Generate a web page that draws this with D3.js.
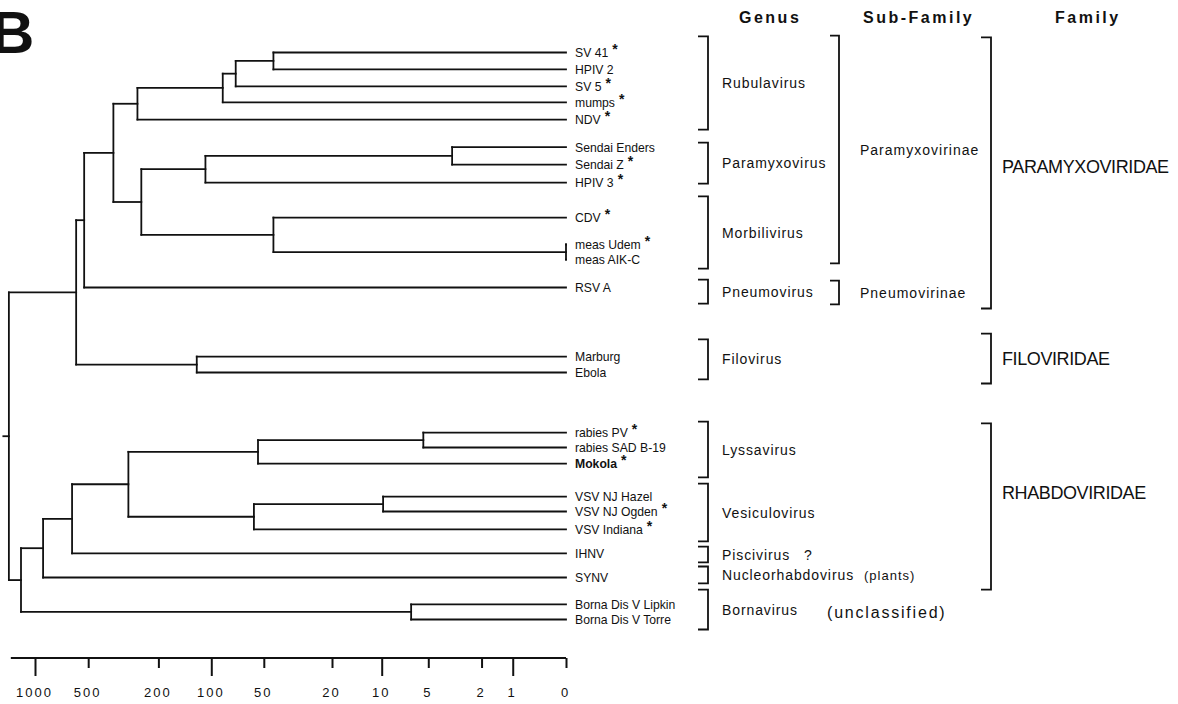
<!DOCTYPE html>
<html><head><meta charset="utf-8">
<script src="https://cdn.jsdelivr.net/npm/d3@7"></script>
<style>
body{margin:0;background:#fff;}
svg{display:block;}
text{font-family:"Liberation Sans",Arial,Helvetica,sans-serif;fill:#111;}
</style>
</head><body>
<svg id="c" width="1178" height="704"></svg>
<script>
// ---------- DATA ----------
const leaves = ["SV 41","HPIV 2","SV 5","mumps","NDV","Sendai Enders","Sendai Z","HPIV 3","CDV",
  "meas Udem","meas AIK-C","RSV A","Marburg","Ebola","rabies PV","rabies SAD B-19","Mokola",
  "VSV NJ Hazel","VSV NJ Ogden","VSV Indiana","IHNV","SYNV","Borna Dis V Lipkin","Borna Dis V Torre"];
const leafParents = ["P7","P7","P6","P5","P4","P10","P10","P9","P11","P12","P12","P2","F1","F1",
  "R5","R5","R4","R7","R7","R6","R2","R1","B1","B1"];
// vertical slot of each leaf (row units)
const leafRows = [0,1.0,2.0,2.94,3.96,5.59,6.62,7.68,9.75,11.34,12.23,13.88,17.96,18.9,
  22.45,23.33,24.28,26.23,27.11,28.17,29.59,31.01,32.6,33.49];
const starred = ["SV 41","SV 5","mumps","NDV","Sendai Z","HPIV 3","CDV","meas Udem",
  "rabies PV","Mokola","VSV NJ Ogden","VSV Indiana"];
const boldLeaves = ["Mokola"];

// internal nodes: id, parent, divergence
const cladeIds     = ["root","P1","P2","P3","P4","P5","P6","P7","P8","P9","P10","P11","P12","F1",
  "R0","R1","R2","R3","R4","R5","R6","R7","B1"];
const cladeParents = ["","root","P1","P2","P3","P4","P5","P6","P3","P8","P9","P8","P11","P1",
  "root","R0","R1","R2","R3","R4","R3","R6","R0"];
const cladeDist    = [1405,585,527,360,263,86,72.5,44,250,108,3.4,44,0,121,
  1200,900,617,296,54,5.4,57,9.8,6.5];
const rootStem = 1510;

// axis
const majorTicks = [1000,100,10,1];
const minorTicks = [500,200,50,20,5,2,0];
const axisStart = 1370;

// classification
const genusNames  = ["Rubulavirus","Paramyxovirus","Morbilivirus","Pneumovirus","Filovirus",
  "Lyssavirus","Vesiculovirus","Piscivirus","Nucleorhabdovirus","Bornavirus"];
const genusTop    = [-0.95,5.32,8.5,13.41,16.95,21.8,25.46,29.18,30.36,31.72];
const genusBottom = [4.55,7.74,12.76,14.83,19.31,25.1,28.88,30.12,31.36,34.08];
const genusNotes  = ["","","","","","","","?","(plants)","(unclassified)"];

const subNames  = ["Paramyxovirinae","Pneumovirinae"];
const subTop    = [-1.0,13.47];
const subBottom = [12.46,14.88];

const famNames    = ["PARAMYXOVIRIDAE","FILOVIRIDAE","RHABDOVIRIDAE"];
const famTop      = [-0.89,16.6,21.91];
const famBottom   = [15.12,19.55,31.72];
const famLabelRow = [6.76,18.05,26.0];

const headers = ["Genus","Sub-Family","Family"];

// ---------- DRAW ----------
const svg = d3.select("#c");
const x = d3.scaleSymlog().constant(1).domain([1000,0]).range([35,566]);
const y = d3.scaleLinear().domain([0,33.49]).range([52.5,619.5]);

const table = cladeIds.map((id,i)=>({id, parent: cladeParents[i]||null, dist: cladeDist[i]}))
  .concat(leaves.map((n,i)=>({id:n, parent:leafParents[i], dist:0, row:leafRows[i]})));
const root = d3.stratify().id(d=>d.id).parentId(d=>d.parent)(table);
root.eachAfter(n=>{
  n.px = x(n.data.dist);
  n.py = n.children ? (d3.min(n.children,c=>c.py)+d3.max(n.children,c=>c.py))/2 : y(n.data.row);
});

// "B" panel letter
svg.append("text").attr("x",-9).attr("y",53).attr("font-size",60).attr("font-weight","bold")
  .text("B");

const gT = svg.append("g").attr("stroke","#111").attr("stroke-width",1.8)
  .attr("stroke-linecap","square").attr("fill","none");
root.descendants().forEach(n=>{
  if(n.children){
    gT.append("line").attr("x1",n.px).attr("x2",n.px)
      .attr("y1",d3.min(n.children,c=>c.py)).attr("y2",d3.max(n.children,c=>c.py));
  }
  if(n.parent){
    gT.append("line").attr("x1",n.parent.px).attr("x2",n.px).attr("y1",n.py).attr("y2",n.py);
  }
});
gT.append("line").attr("x1",x(rootStem)).attr("x2",root.px).attr("y1",root.py).attr("y2",root.py);

// leaf labels
const gL = svg.append("g");
root.leaves().forEach(n=>{
  const t = gL.append("text").attr("x",x(0)+9).attr("y",n.py).attr("dy","0.36em")
    .attr("font-size",12.2).attr("font-weight",boldLeaves.includes(n.id)?"bold":"normal");
  t.append("tspan").text(n.id);
  if(starred.includes(n.id)){
    t.append("tspan").attr("dx",4).attr("dy",-3).attr("font-size",14).attr("font-weight","bold").text("*");
  }
});

// axis
const axY = 658;
const gA = svg.append("g").attr("transform",`translate(0,${axY})`);
gA.append("line").attr("x1",x(axisStart)).attr("x2",x(0)).attr("stroke","#111").attr("stroke-width",2);
function styleAxis(g){
  g.select(".domain").remove();
  g.selectAll(".tick line").attr("stroke","#111").attr("stroke-width",2);
  g.selectAll(".tick text").attr("fill","#111").attr("font-size",13).attr("dx",-1)
    .attr("font-family","'Liberation Sans',Arial,sans-serif").attr("letter-spacing",2);
}
gA.append("g").call(d3.axisBottom(x).tickValues(majorTicks).tickSize(18).tickPadding(12)
  .tickFormat(d3.format("d"))).call(styleAxis);
gA.append("g").call(d3.axisBottom(x).tickValues(minorTicks).tickSize(10).tickPadding(20)
  .tickFormat(d3.format("d"))).call(styleAxis);

// brackets
const gB = svg.append("g").attr("stroke","#111").attr("stroke-width",1.8).attr("fill","none");
function bracket(xv,tick,t,b){
  gB.append("path").attr("d",`M${xv-tick},${y(t)}H${xv}V${y(b)}H${xv-tick}`);
}
const genusX = 708, subX = 839, famX = 991;
const noteX = {"?":804,"(plants)":864,"(unclassified)":827};
const noteStyle = {"?":[14,0],"(plants)":[13,1],"(unclassified)":[16,1.8]};
genusNames.forEach((g,i)=>{
  bracket(genusX,10,genusTop[i],genusBottom[i]);
  const cy = (y(genusTop[i])+y(genusBottom[i]))/2;
  svg.append("text").attr("x",722).attr("y",cy).attr("dy","0.36em").attr("font-size",14)
    .attr("letter-spacing",0.9).text(g);
  const note = genusNotes[i];
  if(note){
    svg.append("text").attr("x",noteX[note]).attr("y",cy+(note==="(unclassified)"?3:0)).attr("dy","0.36em")
      .attr("font-size",noteStyle[note][0]).attr("letter-spacing",noteStyle[note][1]).text(note);
  }
});
subNames.forEach((s,i)=>{
  bracket(subX,9,subTop[i],subBottom[i]);
  const cy = (y(subTop[i])+y(subBottom[i]))/2;
  svg.append("text").attr("x",860).attr("y",cy).attr("dy","0.36em").attr("font-size",14)
    .attr("letter-spacing",1).text(s);
});
famNames.forEach((f,i)=>{
  bracket(famX,10,famTop[i],famBottom[i]);
  svg.append("text").attr("x",1002).attr("y",y(famLabelRow[i])).attr("dy","0.36em").attr("font-size",18)
    .attr("letter-spacing",-0.4).text(f);
});

// column headers
const headerX = [739,863,1055];
headers.forEach((h,i)=>{
  svg.append("text").attr("x",headerX[i]).attr("y",22.5).attr("font-size",16).attr("font-weight","bold")
    .attr("letter-spacing",2.5).text(h);
});
</script>
</body></html>
